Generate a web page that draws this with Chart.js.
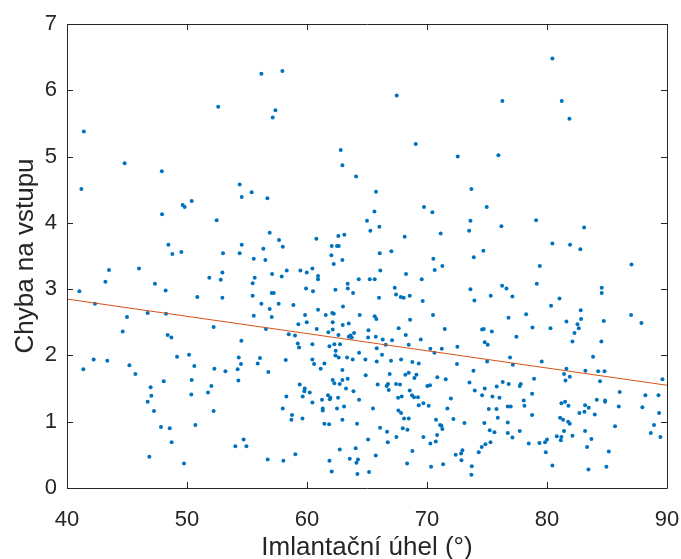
<!DOCTYPE html>
<html>
<head>
<meta charset="utf-8">
<script src="https://cdn.jsdelivr.net/npm/chart.js@4"></script>
<style>
  html, body { margin: 0; padding: 0; background: #fff; }
  #wrap { width: 681px; height: 559px; }
</style>
</head>
<body>
<div id="wrap"><canvas id="chart"></canvas></div>
<script>
// implant angle (deg) and input error
const angles = [
  56.2, 52.6, 41.4, 44.8, 47.9, 57.95, 67.48, 57.37, 57.14, 69.06, 62.81, 72.56, 62.95, 64.09,
  80.45, 76.28, 81.23, 81.87, 75.95,
  41.2, 54.39, 55.39, 54.56, 56.7, 50.39, 49.64, 49.81, 47.92, 52.47, 56.89, 48.45, 54.56, 56.36,
  48.78, 49.53, 53.0, 54.39, 55.56, 56.53, 43.5, 46.0, 52.95, 51.86, 52.81, 55.64, 43.2, 47.33,
  55.47, 41.03, 48.22, 50.86, 52.95, 55.47, 42.33, 56.2, 56.89, 46.72, 48.25, 45.0, 55.56, 52.22,
  56.58, 44.64,
  65.75, 65.62, 69.75, 70.45, 65.0, 65.28, 66.03, 71.14, 68.14, 60.78, 62.61, 63.11, 57.67, 57.98,
  62.06, 62.5, 62.65, 62.03, 66.06, 67.03, 62.23, 62.95, 70.53, 71.28, 70.64, 57.09, 58.31, 57.89,
  59.45, 59.98, 60.45, 60.92, 60.92, 66.11, 68.25, 64.31, 65.23, 65.64, 69.56, 63.39, 63.4, 59.92,
  60.5, 62.37, 63.84, 67.31, 67.42, 67.81, 68.06, 68.56, 57.06, 57.23, 57.64, 58.87, 66.0, 69.64,
  63.0, 60.92, 57.06, 59.84, 61.56, 62.11, 62.23, 64.39, 65.64, 65.78, 70.5, 59.98, 62.14, 62.98,
  63.48, 68.59, 59.28, 60.81, 62.14, 61.78, 63.92, 65.12, 67.64, 71.48,
  73.7, 74.98, 73.62, 79.09, 76.2, 73.51, 83.09, 80.45, 81.92, 82.78, 74.7, 73.9, 79.4, 87.04,
  79.15, 76.26, 76.62, 73.62, 84.56, 84.56, 75.31, 77.12, 73.95, 81.04, 80.34, 82.81, 78.26, 87.01,
  76.79, 82.84, 81.62, 84.73, 87.87, 82.54, 78.79, 80.29, 82.65, 74.59, 74.73, 75.4, 82.29,
  48.39, 48.7, 54.53, 50.17, 49.17, 42.22, 43.36, 54.31, 56.08, 45.2, 50.61, 54.5, 55.89, 41.36,
  52.28, 53.2, 54.22, 56.78, 45.7, 48.06, 50.39, 54.28, 46.97, 52.03, 51.75, 50.36, 47.03, 46.72,
  47.25, 52.22, 47.83, 48.56, 50.7, 48.72, 54.72, 54.03, 54.95, 46.86, 49.75, 56.72,
  58.48, 59.0, 62.62, 63.48, 63.62, 63.73, 65.09, 65.73, 66.31, 67.09, 68.23, 69.48, 59.23, 59.34,
  60.45, 61.87, 62.28, 62.75, 65.81, 66.56, 68.48, 62.39, 64.34, 66.25, 70.28, 70.62, 71.23, 72.53,
  62.37, 62.64, 63.34, 63.81, 64.87, 58.23, 60.45, 60.59, 61.45, 61.14, 65.81, 67.0, 67.84, 68.78,
  69.31, 72.5, 62.95, 64.89, 66.89, 68.2, 68.48, 69.12, 68.95, 70.86, 71.56, 62.14, 62.95, 63.39,
  62.28, 62.73, 59.39, 59.81, 59.78, 60.23, 59.64, 63.25, 63.87, 65.89, 66.64, 66.75, 66.81, 67.42,
  67.75, 70.03, 70.25, 58.28, 61.75, 61.95, 61.9, 61.25, 62.59, 64.34, 68.56, 68.75, 68.92, 69.25,
  67.59, 67.89, 71.99, 60.45, 69.7, 69.31, 70.14, 57.98, 61.31, 61.31, 62.5, 63.09, 65.5, 67.62,
  67.84, 71.7, 58.75, 58.7, 59.62, 62.95, 68.09, 68.48, 70.75, 72.2, 73.12, 61.45, 61.84, 64.17,
  71.09, 71.2, 71.28, 66.09, 67.98, 68.37, 66.67, 67.45, 69.7, 70.84, 65.09, 66.73, 70.28, 70.73,
  62.73, 64.06, 68.78, 72.95, 72.84, 59.03, 72.39, 65.73, 58.03, 61.87, 63.56, 64.25, 64.12, 68.34,
  71.34, 72.87, 70.34, 62.06, 64.2, 65.17,
  77.45, 82.12, 84.53, 74.81, 75.06, 76.92, 77.15, 75.01, 79.56, 83.84, 73.87, 81.62, 81.42, 81.9,
  81.54, 83.2, 84.26, 84.79, 84.42, 89.62, 73.54, 78.92, 76.31, 76.81, 77.81, 77.73, 74.81, 75.81,
  73.98, 86.06, 78.76, 74.59, 75.45, 76.04, 78.06, 78.12, 84.15, 84.84, 84.84, 81.2, 81.51, 81.79,
  83.17, 83.48, 83.12, 82.7, 83.98, 88.2, 89.29, 85.98, 87.95, 89.34, 75.15, 75.79, 76.73, 76.98,
  78.76, 75.9, 81.09, 81.34, 81.76, 81.9, 74.78, 76.73, 85.67, 88.92, 75.23, 75.62, 76.73, 77.73,
  81.42, 82.12, 83.17, 88.65, 89.45, 77.12, 80.81, 81.2, 81.15, 83.7, 75.29, 74.87, 74.56, 78.48,
  79.37, 79.84, 80.0, 83.34, 74.31, 79.9, 85.15, 73.73, 73.7, 80.45, 83.45, 84.95
];
const errors = [
  6.25, 5.75, 5.38, 4.90, 4.78, 6.29, 5.92, 5.70, 5.59, 5.19, 5.10, 5.00, 4.87, 4.70,
  6.48, 5.84, 5.84, 5.57, 5.02,
  4.51, 4.58, 4.46, 4.39, 4.37, 4.33, 4.27, 4.24, 4.13, 4.04, 3.85, 3.67, 3.67, 3.61,
  3.53, 3.56, 3.54, 3.54, 3.46, 3.44, 3.29, 3.31, 3.25, 3.17, 3.14, 3.17, 3.11, 3.08,
  3.09, 2.97, 2.98, 2.88, 2.87, 2.90, 2.78, 2.78, 2.70, 2.64, 2.63, 2.58, 2.60, 2.43,
  2.40, 2.36,
  4.47, 4.17, 4.24, 4.16, 4.03, 3.88, 3.94, 3.84, 3.79, 3.76, 3.80, 3.82, 3.74, 3.64,
  3.65, 3.65, 3.65, 3.51, 3.54, 3.57, 3.38, 3.44, 3.46, 3.35, 3.29, 3.23, 3.28, 3.19,
  3.28, 3.25, 3.31, 3.20, 3.15, 3.28, 3.23, 3.15, 3.15, 3.15, 3.15, 3.08, 3.01, 3.01,
  2.97, 2.99, 2.94, 3.02, 2.92, 2.88, 2.87, 2.90, 2.94, 2.94, 2.78, 2.76, 2.87, 2.82,
  2.74, 2.69, 2.58, 2.61, 2.61, 2.64, 2.63, 2.61, 2.59, 2.55, 2.61, 2.50, 2.50, 2.46,
  2.48, 2.54, 2.47, 2.40, 2.39, 2.35, 2.34, 2.38, 2.41, 2.40,
  4.51, 4.24, 4.03, 4.04, 3.95, 3.88, 3.93, 3.69, 3.67, 3.60, 3.58, 3.48, 3.35, 3.37,
  3.08, 3.05, 3.01, 3.00, 3.02, 2.94, 2.90, 2.89, 2.83, 2.86, 2.75, 2.68, 2.62, 2.61,
  2.57, 2.55, 2.51, 2.52, 2.49, 2.47, 2.42, 2.41, 2.41, 2.39, 2.40, 2.36, 2.34,
  2.31, 2.27, 2.22, 2.01, 1.98, 1.94, 1.92, 1.97, 1.96, 1.85, 1.84, 1.87, 1.88, 1.79,
  1.80, 1.76, 1.79, 1.75, 1.72, 1.61, 1.63, 1.62, 1.52, 1.54, 1.44, 1.41, 1.39, 1.30,
  1.16, 1.16, 0.92, 0.90, 0.95, 0.69, 0.73, 0.63, 0.63, 0.47, 0.37, 0.43,
  2.32, 2.30, 2.31, 2.28, 2.30, 2.27, 2.27, 2.28, 2.24, 2.23, 2.31, 2.24, 2.18, 2.12,
  2.17, 2.14, 2.17, 2.17, 2.11, 2.16, 2.16, 2.07, 2.04, 2.01, 2.10, 2.04, 2.10, 2.13,
  2.00, 1.97, 1.97, 1.94, 1.94, 1.93, 1.94, 1.87, 1.88, 1.80, 1.91, 1.92, 1.94, 1.90,
  1.88, 1.87, 1.78, 1.70, 1.72, 1.71, 1.74, 1.71, 1.66, 1.67, 1.64, 1.63, 1.63, 1.65,
  1.58, 1.57, 1.56, 1.50, 1.46, 1.44, 1.38, 1.50, 1.46, 1.56, 1.54, 1.57, 1.48, 1.57,
  1.56, 1.54, 1.55, 1.38, 1.40, 1.36, 1.34, 1.33, 1.36, 1.33, 1.47, 1.40, 1.37, 1.37,
  1.36, 1.38, 1.35, 1.29, 1.28, 1.25, 1.24, 1.20, 1.20, 1.17, 1.20, 1.23, 1.20, 1.17,
  1.13, 1.20, 1.10, 1.03, 1.05, 1.03, 1.05, 1.05, 1.03, 1.04, 0.98, 0.97, 0.96, 0.97,
  0.95, 0.94, 0.89, 0.91, 0.90, 0.88, 0.85, 0.77, 0.77, 0.80, 0.73, 0.69, 0.67, 0.70,
  0.58, 0.60, 0.56, 0.57, 0.52, 0.51, 0.50, 0.49, 0.41, 0.41, 0.44, 0.43, 0.38, 0.37,
  0.36, 0.42, 0.32, 0.25, 0.21, 0.24,
  2.28, 2.21, 2.21, 2.20, 2.16, 1.97, 1.86, 1.91, 1.91, 1.98, 1.77, 1.80, 1.72, 1.68,
  1.62, 1.77, 1.76, 1.76, 1.61, 1.64, 1.59, 1.65, 1.60, 1.57, 1.57, 1.54, 1.50, 1.53,
  1.47, 1.45, 1.42, 1.40, 1.38, 1.36, 1.32, 1.24, 1.33, 1.32, 1.30, 1.28, 1.30, 1.24,
  1.25, 1.21, 1.15, 1.13, 1.11, 1.40, 1.40, 1.23, 1.22, 1.13, 1.19, 1.19, 1.23, 1.23,
  1.10, 1.06, 1.06, 1.03, 1.00, 0.97, 0.98, 0.99, 0.93, 0.95, 0.87, 0.84, 0.83, 0.86,
  0.86, 0.79, 0.86, 0.83, 0.77, 0.76, 0.78, 0.77, 0.72, 0.74, 0.69, 0.66, 0.62, 0.67,
  0.68, 0.69, 0.73, 0.62, 0.54, 0.54, 0.55, 0.33, 0.20, 0.34, 0.28, 0.32
];

// fitted trend line end points
const fitX = [40, 90];
const fitY = [2.85, 1.55];

const xTicks = [40, 50, 60, 70, 80, 90];
const yTicks = [0, 1, 2, 3, 4, 5, 6, 7];

const points = angles.map((a, i) => ({ x: a, y: errors[i] }));
const fitLine = fitX.map((a, i) => ({ x: a, y: fitY[i] }));

const axisColor = "#262626";

// matlab style box with ticks pointing inward
const boxPlugin = {
  id: "box",
  afterDraw(chart) {
    const { ctx, chartArea: a, scales } = chart;
    ctx.save();
    ctx.strokeStyle = axisColor;
    ctx.lineWidth = 1;
    ctx.beginPath();
    ctx.rect(a.left + 0.5, a.top + 0.5, a.right - a.left, a.bottom - a.top);
    const t = 6;
    xTicks.forEach((v) => {
      const x = Math.round(scales.x.getPixelForValue(v)) + 0.5;
      ctx.moveTo(x, a.bottom);
      ctx.lineTo(x, a.bottom - t);
      ctx.moveTo(x, a.top);
      ctx.lineTo(x, a.top + t);
    });
    yTicks.forEach((v) => {
      const y = Math.round(scales.y.getPixelForValue(v)) + 0.5;
      ctx.moveTo(a.left, y);
      ctx.lineTo(a.left + t, y);
      ctx.moveTo(a.right, y);
      ctx.lineTo(a.right - t, y);
    });
    ctx.stroke();
    ctx.restore();
  },
};

const chart = new Chart(document.getElementById("chart"), {
  type: "scatter",
  data: {
    datasets: [
      {
        label: "data",
        data: points,
        pointRadius: 2,
        pointBorderWidth: 0,
        pointBackgroundColor: "#0072BD",
        order: 2,
      },
      {
        type: "line",
        label: "fit",
        data: fitLine,
        borderColor: "#D95319",
        borderWidth: 1,
        pointRadius: 0,
        showLine: true,
        order: 1,
      },
    ],
  },
  options: {
    responsive: true,
    maintainAspectRatio: false,
    animation: false,
    layout: { padding: { left: 0, right: 14, top: 24, bottom: 0 } },
    plugins: {
      legend: { display: false },
      tooltip: { enabled: false },
    },
    scales: {
      x: {
        type: "linear",
        min: 40,
        max: 90,
        afterBuildTicks: (s) => { s.ticks = xTicks.map((v) => ({ value: v })); },
        afterFit: (s) => {
          s.height = 71;
          s.paddingLeft = 0;
          s.paddingRight = 0;
        },
        grid: { display: false, drawTicks: false },
        border: { display: false },
        ticks: {
          color: axisColor,
          padding: 19,
          font: { family: "'Liberation Sans', Arial, sans-serif", size: 22 },
        },
        title: {
          display: true,
          text: "Imlantační úhel (°)",
          color: axisColor,
          padding: { top: 0, bottom: -4 },
          font: { family: "'Liberation Sans', Arial, sans-serif", size: 26 },
        },
      },
      y: {
        type: "linear",
        min: 0,
        max: 7,
        afterBuildTicks: (s) => { s.ticks = yTicks.map((v) => ({ value: v })); },
        afterFit: (s) => { s.width = 67; },
        grid: { display: false, drawTicks: false },
        border: { display: false },
        ticks: {
          color: axisColor,
          padding: 10,
          font: { family: "'Liberation Sans', Arial, sans-serif", size: 22 },
        },
        title: {
          display: true,
          text: "Chyba na vstupu",
          color: axisColor,
          padding: { top: 10, bottom: 0 },
          font: { family: "'Liberation Sans', Arial, sans-serif", size: 26 },
        },
      },
    },
  },
  plugins: [boxPlugin],
});
</script>
</body>
</html>
